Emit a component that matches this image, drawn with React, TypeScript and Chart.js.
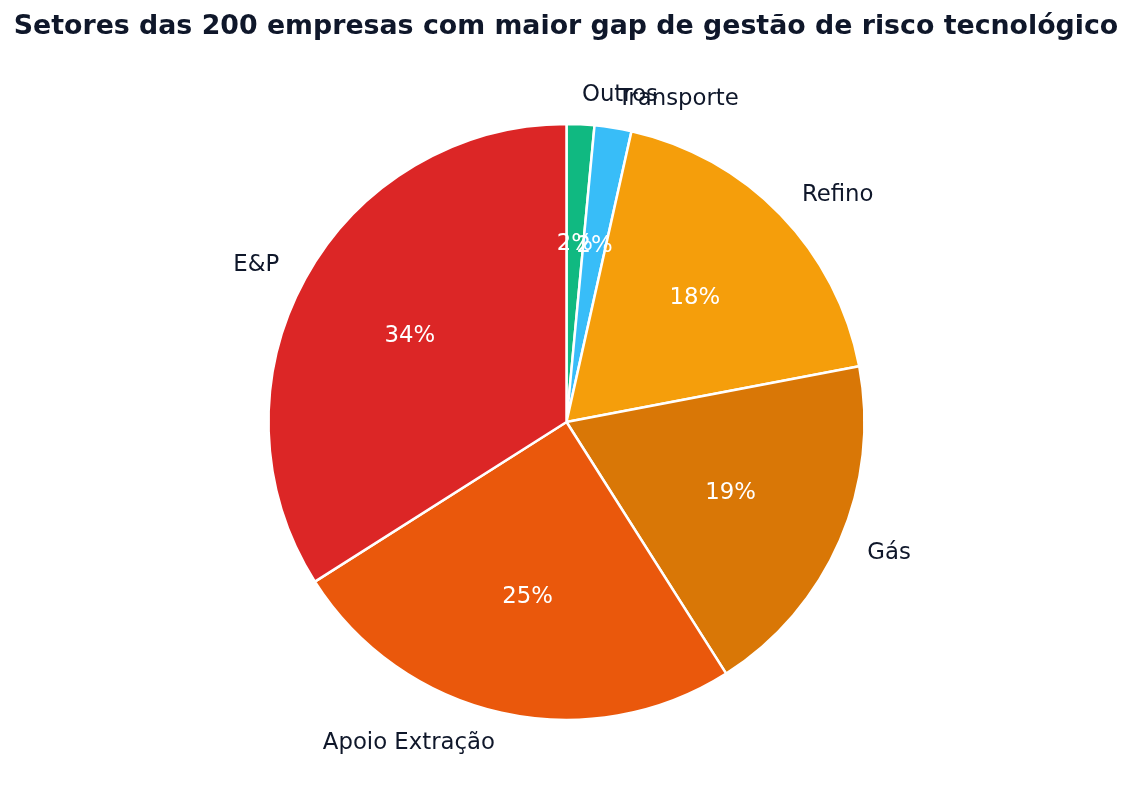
import React, { useEffect, useRef } from "react";
import { Chart, registerables } from "chart.js";

Chart.register(...registerables);

const TITLE = "Setores das 200 empresas com maior gap de gestão de risco tecnológico";
const categories = ["Outros", "Transporte", "Refino", "Gás", "Apoio Extração", "E&P"];
const counts = [3, 4, 37, 38, 50, 68];
const colors = ["#10b981", "#38bdf8", "#f59e0b", "#d97706", "#ea580c", "#dc2626"];

const TEXT_COLOR = "#0f172a";
const FONT = "'DejaVu Sans', sans-serif";

function fmtPct(v: number, total: number): string {
  const p = (v / total) * 100;
  // round half to even like Python formatting
  const f = Math.floor(p);
  const diff = p - f;
  let r: number;
  if (Math.abs(diff - 0.5) < 1e-9) r = f % 2 === 0 ? f : f + 1;
  else r = Math.round(p);
  return r + "%";
}

const labelPlugin = {
  id: "pieLabels",
  afterDraw(chart: any) {
    const ctx = chart.ctx;
    const meta = chart.getDatasetMeta(0);
    const data = chart.data.datasets[0].data as number[];
    const total = data.reduce((a, b) => a + b, 0);
    ctx.save();
    // percent labels
    meta.data.forEach((arc: any, i: number) => {
      const mid = (arc.startAngle + arc.endAngle) / 2;
      const r = arc.outerRadius * 0.6;
      const x = arc.x + r * Math.cos(mid);
      const y = arc.y + r * Math.sin(mid);
      ctx.font = `22.8px ${FONT}`;
      ctx.fillStyle = "#ffffff";
      ctx.textAlign = "center";
      ctx.textBaseline = "middle";
      ctx.fillText(fmtPct(data[i], total), x, y + 0.5);
    });
    // category labels
    meta.data.forEach((arc: any, i: number) => {
      const mid = (arc.startAngle + arc.endAngle) / 2;
      const r = arc.outerRadius * 1.1;
      const dx = r * Math.cos(mid);
      const x = arc.x + dx;
      const y = arc.y + r * Math.sin(mid);
      ctx.font = `22.8px ${FONT}`;
      ctx.fillStyle = TEXT_COLOR;
      ctx.textAlign = dx > 0 ? "left" : "right";
      ctx.textBaseline = "middle";
      ctx.fillText(chart.data.labels[i], x, y + 1);
    });
    // title
    ctx.font = `bold 26.8px ${FONT}`;
    ctx.fillStyle = TEXT_COLOR;
    ctx.textAlign = "center";
    ctx.textBaseline = "alphabetic";
    ctx.fillText(TITLE, 566, 34);
    ctx.restore();
  },
};

export default function App() {
  const ref = useRef<HTMLCanvasElement | null>(null);
  useEffect(() => {
    if (!ref.current) return;
    const chart = new Chart(ref.current, {
      type: "pie",
      data: {
        labels: categories,
        datasets: [
          {
            data: counts,
            backgroundColor: colors,
            borderColor: "#ffffff",
            borderWidth: 2.5,
          },
        ],
      },
      options: {
        responsive: false,
        animation: false,
        radius: 298,
        layout: { padding: { top: 40, bottom: 7, left: 0, right: 0 } },
        plugins: {
          legend: { display: false },
          title: { display: false },
          tooltip: { enabled: false },
        },
      } as any,
      plugins: [labelPlugin],
    });
    return () => chart.destroy();
  }, []);
  return (
    <div style={{ position: "fixed", left: 0, top: 0, width: 1133, height: 811, background: "#ffffff" }}>
      <canvas ref={ref} width={1133} height={811} style={{ width: 1133, height: 811 }} />
    </div>
  );
}
